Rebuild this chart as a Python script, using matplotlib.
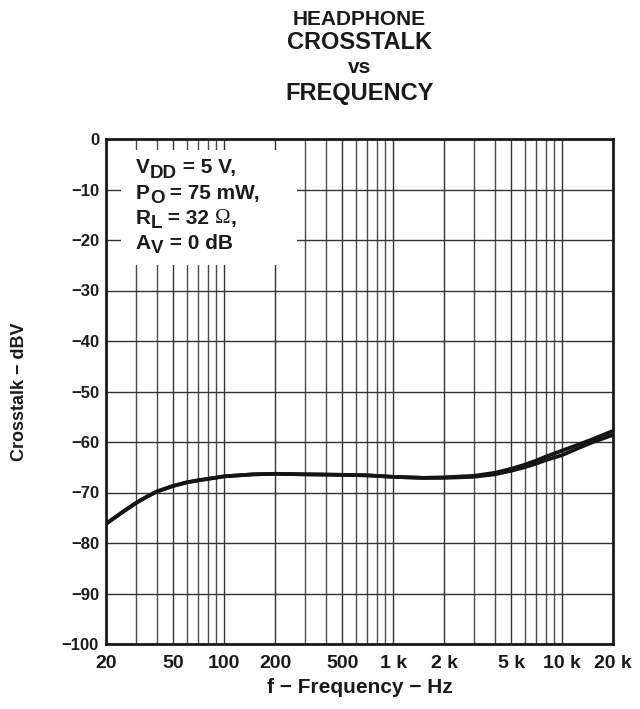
import matplotlib
matplotlib.use('Agg')
import matplotlib.pyplot as plt
from matplotlib.patches import Rectangle
from matplotlib.ticker import FixedLocator, NullFormatter

plt.rcParams['font.family'] = ['Liberation Sans', 'DejaVu Sans']

# values
freq = [20, 25, 30, 35, 40, 50, 60, 70, 80, 90, 100, 150, 200, 300, 500, 700,
        1000, 1500, 2000, 3000, 4000, 5000, 6000, 7000, 8000, 10000, 12500,
        15000, 20000]
crosstalk_a = [-76.2, -73.9, -72.1, -70.8, -69.8, -68.7, -68.0, -67.6, -67.3,
               -67.05, -66.8, -66.4, -66.3, -66.4, -66.5, -66.6, -66.9, -67.1,
               -67.0, -66.7, -66.1, -65.3, -64.5, -63.7, -62.9, -61.7, -60.5,
               -59.5, -57.8]
crosstalk_b = [-76.2, -73.9, -72.1, -70.8, -69.8, -68.7, -68.0, -67.6, -67.3,
               -67.05, -66.8, -66.4, -66.3, -66.4, -66.5, -66.6, -66.9, -67.1,
               -67.1, -66.9, -66.4, -65.7, -65.0, -64.3, -63.6, -62.6, -61.2,
               -60.1, -58.6]

xticks = [20, 50, 100, 200, 500, 1000, 2000, 5000, 10000, 20000]
xticklabels = ['20', '50', '100', '200', '500', '1 k', '2 k', '5 k', '10 k', '20 k']
yticks = list(range(-100, 1, 10))
yticklabels = ['\u2212%d' % -v if v < 0 else '0' for v in yticks]
minor_freq = [m * d for d in (10, 100, 1000, 10000) for m in range(1, 10)
              if 20 <= m * d <= 20000 and m * d not in xticks]

# test conditions: (main, subscript, rest)
cond = [('V', 'DD', ' = 5 V,'), ('P', 'O', ' = 75 mW,'),
        ('R', 'L', ' = 32 '), ('A', 'V', ' = 0 dB')]

fig = plt.figure(figsize=(6.4, 7.09), dpi=100, facecolor='white')
ax = fig.add_axes([106 / 640, 1 - 644 / 709, 507 / 640, 505 / 709])

ax.plot(freq, crosstalk_b, color='#151515', lw=2.7, zorder=4)
ax.plot(freq, crosstalk_a, color='#151515', lw=2.7, zorder=4)

ax.set_xscale('log')
ax.set_xlim(20, 20000)
ax.set_ylim(-100, 0)
ax.xaxis.set_major_locator(FixedLocator(xticks))
ax.xaxis.set_minor_locator(FixedLocator(minor_freq))
ax.xaxis.set_minor_formatter(NullFormatter())
ax.set_xticklabels(xticklabels)
ax.set_yticks(yticks)
ax.set_yticklabels(yticklabels)
ax.tick_params(which='both', length=0)
ax.tick_params(axis='x', labelsize=14, pad=8)
ax.tick_params(axis='y', labelsize=12, pad=5)
for lab in ax.get_xticklabels() + ax.get_yticklabels():
    lab.set_fontweight('bold')
    lab.set_color('#1a1a1a')

ax.grid(True, which='major', color='#333333', lw=1.0)
ax.grid(True, which='minor', axis='x', color='#4a4a4a', lw=1.0)
ax.set_axisbelow(True)
for sp in ax.spines.values():
    sp.set_linewidth(2.0)
    sp.set_color('#1a1a1a')

# white label box over the grid
ax.add_patch(Rectangle((0.030, 0.750), 0.347, 0.228, transform=ax.transAxes,
                       facecolor='white', edgecolor='none', zorder=2))
for i, (main, sub, rest) in enumerate(cond):
    t = ax.text(0.059, 0.924 - i * 0.050, main, transform=ax.transAxes,
                fontsize=15, fontweight='bold', color='#1a1a1a',
                va='bottom', ha='left', zorder=3)
    t = ax.annotate(sub, xy=(1, 0), xycoords=t, xytext=(0, -3),
                    textcoords='offset points', fontsize=13.5, fontweight='bold',
                    color='#1a1a1a', va='bottom', ha='left', zorder=3)
    t = ax.annotate(rest, xy=(1, 0), xycoords=t, xytext=(0, 3),
                    textcoords='offset points', fontsize=15, fontweight='bold',
                    color='#1a1a1a', va='bottom', ha='left', zorder=3)
    if main == 'R':
        t = ax.annotate('\u03a9', xy=(1, 0), xycoords=t, xytext=(0, 0),
                        textcoords='offset points', fontsize=15,
                        family=['Liberation Serif', 'DejaVu Serif'],
                        color='#1a1a1a', va='bottom', ha='left', zorder=3)
        ax.annotate(',', xy=(1, 0), xycoords=t, xytext=(0, 0),
                    textcoords='offset points', fontsize=15, fontweight='bold',
                    color='#1a1a1a', va='bottom', ha='left', zorder=3)

ax.set_xlabel('f \u2212 Frequency \u2212 Hz', fontsize=15, fontweight='bold',
              color='#1a1a1a', labelpad=4)
ax.set_ylabel('Crosstalk \u2212 dBV', fontsize=13, fontweight='bold',
              color='#1a1a1a', labelpad=24)

cx = (106 + 613) / 2 / 640
titles = [('HEADPHONE', 15, 25), ('CROSSTALK', 17, 49), ('vs', 15, 73), ('FREQUENCY', 17, 100)]
for s, fs, ypx in titles:
    fig.text(cx, 1 - ypx / 709, s, fontsize=fs, fontweight='bold', color='#1a1a1a',
             ha='center', va='baseline')

fig.savefig('out.png', dpi=100)
